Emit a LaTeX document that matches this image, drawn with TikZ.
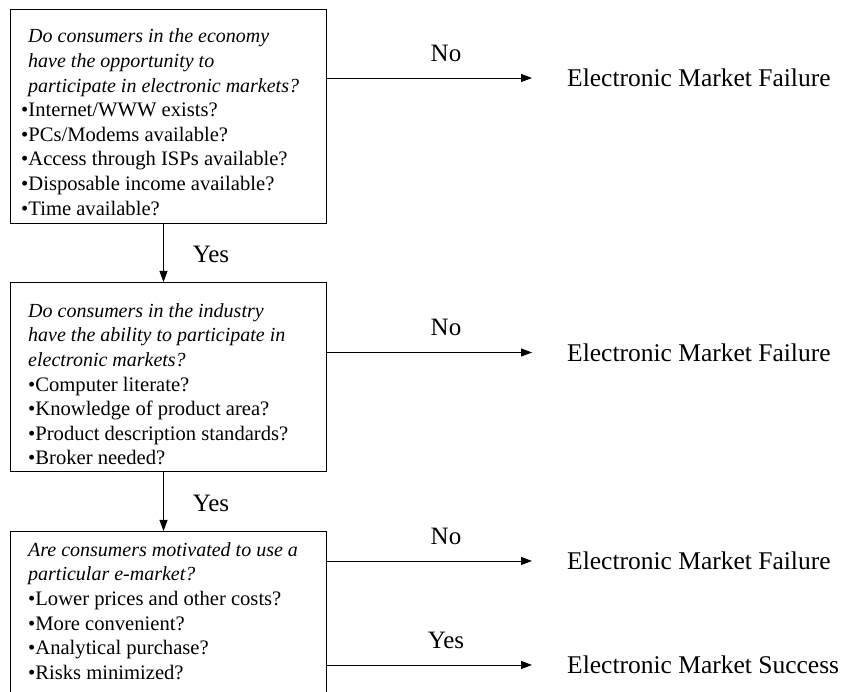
\documentclass[tikz,border=0pt]{standalone}
\usepackage{fontspec}
\setmainfont{Liberation Serif}
\usetikzlibrary{arrows.meta}
\newcommand{\qit}[1]{{\fontsize{20}{24.6}\selectfont\itshape #1}}
\begin{document}
\begin{tikzpicture}[x=1pt,y=-1pt,
  box/.style={draw=black, line width=0.9pt, minimum width=316.5pt, anchor=north west, inner sep=0pt},
  qtext/.style={anchor=north west, inner sep=0pt, align=left, font=\fontsize{20.6}{24.6}\selectfont},
  lbl/.style={font=\fontsize{25}{30}\selectfont, inner sep=0pt, anchor=base},
  res/.style={font=\fontsize{25.5}{30}\selectfont, anchor=west, inner xsep=35pt, inner ysep=0pt},
  arr/.style={line width=0.9pt, -{Triangle[length=11pt,width=8pt]}}]
\useasboundingbox (0,0) rectangle (844,692);
\clip (0,0) rectangle (844,692);
% boxes
\node[box, minimum height=214pt] (b1) at (9.5,9) {};
\node[box, minimum height=189pt] (b2) at (9.5,282) {};
\node[box, minimum height=170pt] (b3) at (9.5,531) {};
% box texts
\node[qtext] (t1) at (28,27.7) {\rule{0pt}{15pt}\qit{Do consumers in the economy}\\
\qit{have the opportunity to}\\
\qit{participate in electronic markets?}\\
\hspace*{-7pt}•Internet/WWW exists?\\
\hspace*{-7pt}•PCs/Modems available?\\
\hspace*{-7pt}•Access through ISPs available?\\
\hspace*{-7pt}•Disposable income available?\\
\hspace*{-7pt}•Time available?};
\node[qtext] (t2) at (28,302) {\rule{0pt}{15pt}\qit{Do consumers in the industry}\\
\qit{have the ability to participate in}\\
\qit{electronic markets?}\\
•Computer literate?\\
•Knowledge of product area?\\
•Product description standards?\\
•Broker needed?};
\node[qtext] (t3) at (28,541) {\rule{0pt}{15pt}\qit{Are consumers motivated to use a}\\
\qit{particular e-market?}\\
•Lower prices and other costs?\\
•More convenient?\\
•Analytical purchase?\\
•Risks minimized?};
% vertical arrows
\coordinate (v) at (163.5,0);
\draw[arr] (b1.south -| v) -- (b2.north -| v);
\draw[arr] (b2.south -| v) -- (b3.north -| v);
\node[lbl] (y1) at (211,263) {Yes};
\node[lbl] (y2) at (211,512) {Yes};
% result labels
\node[res] (f1) at (532,78) {Electronic Market Failure};
\node[res] (f2) at (532,352.5) {Electronic Market Failure};
\node[res] (f3) at (532,561) {Electronic Market Failure};
\node[res] (s4) at (532,665) {Electronic Market Success};
\draw[arr] (b1.east |- f1.west) -- (f1.west);
\draw[arr] (b2.east |- f2.west) -- (f2.west);
\draw[arr] (b3.east |- f3.west) -- (f3.west);
\draw[arr] (b3.east |- s4.west) -- (s4.west);
\node[lbl] (n1) at (446,62) {No};
\node[lbl] (n2) at (446,336) {No};
\node[lbl] (n3) at (446,544.5) {No};
\node[lbl] (n4) at (446,648.5) {Yes};
\end{tikzpicture}
\end{document}
